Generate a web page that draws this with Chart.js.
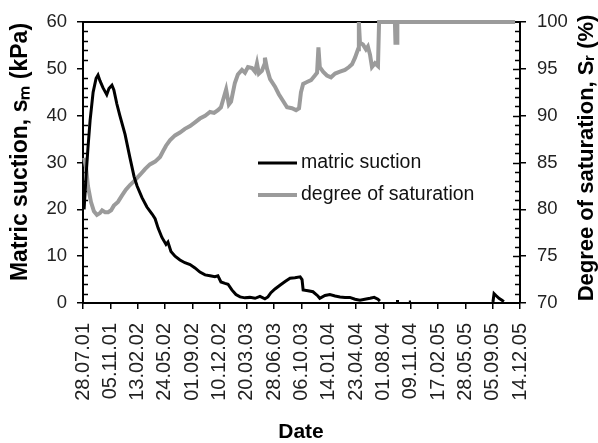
<!DOCTYPE html>
<html>
<head>
<meta charset="utf-8">
<script src="https://cdn.jsdelivr.net/npm/chart.js@4/dist/chart.umd.min.js"></script>
<style>
  html, body { margin: 0; padding: 0; background: #fff; }
  #wrap { width: 598px; height: 443px; position: relative; }
</style>
</head>
<body>
<div id="wrap"><canvas id="c" width="598" height="443"></canvas></div>
<script>
// x values: days since 28.07.01
const dateTickLabels = ['28.07.01','05.11.01','13.02.02','24.05.02','01.09.02','10.12.02','20.03.03','28.06.03','06.10.03','14.01.04','23.04.04','01.08.04','09.11.04','17.02.05','28.05.05','05.09.05','14.12.05'];

const suctionDays = [4,11,18,26,37,48,55,62,73,87,95,106,113,124,135,154,172,187,198,216,234,253,264,275,289,304,311,322,337,355,373,392,410,428,447,465,483,494,505,520,531,545,560,575,593,611,630,648,666,677,688,703,721,740,758,776,795,802,806,824,842,860,867,886,904,923,941,959,977,996,1014,1032,1051,1066,1080,1087,1100,1146,1157,1170,1193,1201,1300,1501,1505,1512,1523,1534,1541];
const suctionValues = [20,27,33,39,45,48,48.7,47.5,46,44.5,45.8,46.5,45.5,42.5,40,36,31,27,25,22.5,20.5,19,18,16,14,12.5,13,11,10,9.2,8.6,8.2,7.5,6.6,6,5.8,5.6,5.8,4.5,4.2,4,2.8,1.8,1.3,1.1,1.2,1,1.4,0.9,1.3,2.2,3,3.8,4.6,5.3,5.4,5.6,5,2.8,2.6,2.4,1.5,1,1.6,1.8,1.5,1.3,1.2,1.2,0.8,0.6,0.8,1,1.2,0.8,0.4,null,0.3,0.3,null,0.2,0.2,null,0.2,2,1.6,1,0.6,0.3];

const saturationDays = [4,11,18,29,40,51,62,70,81,92,103,113,128,143,157,172,190,209,227,245,264,282,293,304,319,337,355,373,392,410,428,447,465,480,494,505,516,524,534,542,556,567,582,593,604,619,630,637,644,655,663,666,674,685,703,717,732,747,765,780,791,798,806,820,835,849,857,862,867,879,893,908,923,941,959,974,985,996,1007,1010,1014,1025,1036,1043,1051,1058,1069,1080,1084,1142,1144,1150,1151,1582];
const saturationValues = [85.5,84.5,82.5,80.8,79.8,79.4,79.6,79.9,79.7,79.7,79.9,80.4,80.8,81.5,82.1,82.6,83.1,83.7,84.3,84.8,85.1,85.6,86.2,86.8,87.4,87.9,88.2,88.6,88.9,89.3,89.7,90.0,90.4,90.3,90.6,90.9,92.0,92.8,91.2,91.5,93.5,94.4,94.9,94.6,95.2,95.1,94.7,95.6,94.5,94.8,95.4,96.2,95.0,93.9,93.1,92.3,91.6,90.9,90.8,90.6,90.8,92.5,93.4,93.6,93.8,94.3,94.6,97.3,95.2,94.7,94.3,94.1,94.5,94.7,94.9,95.2,95.5,96.2,97.1,100,97.8,97.6,97.1,97.4,96.5,95.2,95.6,95.3,100,100,97.8,97.8,100,100];

const seriesNames = ['matric suction', 'degree of saturation'];
const axisTitles = { y: 'Matric suction, s\u2098 (kPa)', y2: 'Degree of saturation, S\u1D63 (%)', x: 'Date' };

const toPoints = (xs, ys) => xs.map((x, i) => ({ x: x, y: ys[i] }));

const FONT = '"Liberation Sans", Arial, sans-serif';

const decorPlugin = {
  id: 'decor',
  beforeDatasetsDraw(chart) {
    const { ctx, chartArea } = chart;
    const y = chart.scales.y, y2 = chart.scales.y2;
    ctx.save();
    ctx.strokeStyle = '#000';
    ctx.lineWidth = 2;
    ctx.beginPath();
    ctx.moveTo(chartArea.left - 1, chartArea.top);
    ctx.lineTo(chartArea.right + 1, chartArea.top);
    ctx.stroke();
    ctx.lineWidth = 1.5;
    for (let v = 2; v < 60; v += 2) {
      if (v % 10 === 0) continue;
      const py = Math.round(y.getPixelForValue(v)) + 0.5;
      ctx.beginPath(); ctx.moveTo(chartArea.left, py); ctx.lineTo(chartArea.left + 5, py); ctx.stroke();
    }
    for (let v = 71; v < 100; v += 1) {
      const py = Math.round(y2.getPixelForValue(v)) + 0.5;
      const len = (v % 5 === 0) ? 7 : 5;
      ctx.beginPath(); ctx.moveTo(chartArea.right, py); ctx.lineTo(chartArea.right - len, py); ctx.stroke();
    }
    ctx.restore();
  },
  afterDraw(chart) {
    const { ctx } = chart;
    ctx.save();
    ctx.fillStyle = '#000';
    ctx.textAlign = 'center';
    ctx.textBaseline = 'alphabetic';
    ctx.font = 'bold 23px ' + FONT;
    ctx.save();
    ctx.translate(27, 152);
    ctx.rotate(-Math.PI / 2);
    ctx.fillText(axisTitles.y, 0, 0);
    ctx.restore();
    ctx.font = 'bold 22px ' + FONT;
    ctx.save();
    ctx.translate(593, 158);
    ctx.rotate(-Math.PI / 2);
    ctx.fillText(axisTitles.y2, 0, 0);
    ctx.restore();
    ctx.font = 'bold 21px "Liberation Sans Narrow", ' + FONT;
    ctx.fillText(axisTitles.x, 301, 438);
    const ds = chart.data.datasets;
    const rows = [163, 195];
    ctx.font = '19.5px ' + FONT;
    ctx.textAlign = 'left';
    ctx.textBaseline = 'middle';
    ds.forEach((d, i) => {
      ctx.strokeStyle = d.borderColor;
      ctx.lineWidth = d.borderWidth;
      ctx.beginPath(); ctx.moveTo(258, rows[i]); ctx.lineTo(297, rows[i]); ctx.stroke();
      ctx.fillStyle = '#111';
      ctx.fillText(d.label, 301, rows[i]);
    });
    ctx.restore();
  }
};

new Chart(document.getElementById('c'), {
  type: 'line',
  data: {
    datasets: [
      {
        label: seriesNames[0],
        data: toPoints(suctionDays, suctionValues),
        yAxisID: 'y',
        borderColor: '#000000',
        borderWidth: 3,
        pointRadius: 0,
        tension: 0,
        spanGaps: false,
        order: 1,
        clip: 4
      },
      {
        label: seriesNames[1],
        data: toPoints(saturationDays, saturationValues),
        yAxisID: 'y2',
        borderColor: '#9b9b9b',
        borderWidth: 4,
        pointRadius: 0,
        tension: 0,
        order: 2,
        clip: 4
      }
    ]
  },
  options: {
    responsive: false,
    animation: false,
    devicePixelRatio: 1,
    layout: { padding: { top: 16, left: 0, right: 0, bottom: 0 } },
    plugins: { legend: { display: false }, tooltip: { enabled: false } },
    scales: {
      x: {
        type: 'linear',
        min: 0, max: 1600,
        afterFit(s) { s.height = 140; },
        border: { display: true, color: '#000', width: 2 },
        grid: { drawOnChartArea: false, drawTicks: true, tickLength: 6, color: '#000', lineWidth: 1.5 },
        ticks: {
          stepSize: 100,
          autoSkip: false,
          maxRotation: 90, minRotation: 90,
          padding: 14,
          color: '#222',
          font: { family: FONT, size: 20 },
          callback: (v) => dateTickLabels[Math.round(v / 100)]
        }
      },
      y: {
        position: 'left',
        min: 0, max: 60,
        afterFit(s) { s.width = 83; },
        border: { display: true, color: '#000', width: 2 },
        grid: { drawOnChartArea: false, drawTicks: true, tickLength: 6, color: '#000', lineWidth: 1.5 },
        ticks: { stepSize: 10, padding: 10, color: '#222', font: { family: FONT, size: 18.5 } }
      },
      y2: {
        position: 'right',
        min: 70, max: 100,
        afterFit(s) { s.width = 78; },
        border: { display: true, color: '#000', width: 2 },
        grid: { drawOnChartArea: false, drawTicks: true, tickLength: 6, color: '#000', lineWidth: 1.5 },
        ticks: { stepSize: 5, padding: 11, color: '#222', font: { family: FONT, size: 18.5 } }
      }
    }
  },
  plugins: [decorPlugin]
});
</script>
</body>
</html>
